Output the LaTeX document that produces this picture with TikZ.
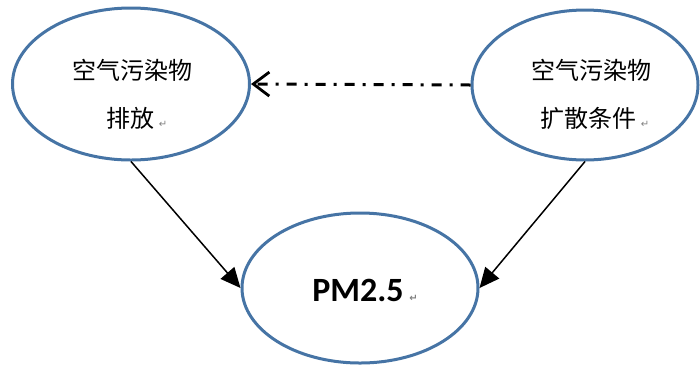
\documentclass[tikz,border=0pt]{standalone}
\usepackage{fontspec}
\setsansfont{Carlito}
\newfontfamily\cjk{Noto Sans CJK SC}
\newfontfamily\symfont{DejaVu Sans}
\usetikzlibrary{arrows.meta,shapes.geometric,positioning}
\definecolor{outline}{RGB}{70,116,165}
\newcommand{\retmark}{\,{\color{gray}\symfont\fontsize{5}{5}\selectfont ↵}}
\tikzset{
  blob/.style={ellipse,draw=outline,line width=1.5pt,inner sep=0pt},
  txt/.style={font=\cjk\fontsize{12}{12}\selectfont,inner sep=0pt}
}
\begin{document}
\begin{tikzpicture}[x=0.5pt,y=-0.5pt]
\useasboundingbox (0,0) rectangle (700,365);
\node[blob,minimum width=118.5pt,minimum height=76pt] (emission) at (131,84) {};
\node[blob,minimum width=113pt,minimum height=75pt] (dispersion) at (585,85) {};
\node[blob,minimum width=118pt,minimum height=75pt] (pm) at (360,288) {};
\node[txt] (E1) at (132,70) {空气污染物};
\node[txt] (E2) at (137,118) {排放\retmark};
\node[txt] (D1) at (591,70) {空气污染物};
\node[txt] (D2) at (595,118) {扩散条件\retmark};
\node[inner sep=0pt] (P) at (365,290) {\sffamily\bfseries\fontsize{17}{17}\selectfont PM2.5\retmark};
\path[-{Triangle[length=10pt,width=9pt]},line width=0.75pt]
(emission.south) edge (pm.west)
(dispersion.south) edge (pm.east);
\draw[-{Straight Barb[length=8pt,width=12pt,line width=1.4pt]},line width=1.5pt,
  dash pattern=on 5pt off 4pt on 1.5pt off 4pt]
(dispersion.west) -- (emission.east);
\end{tikzpicture}
\end{document}
